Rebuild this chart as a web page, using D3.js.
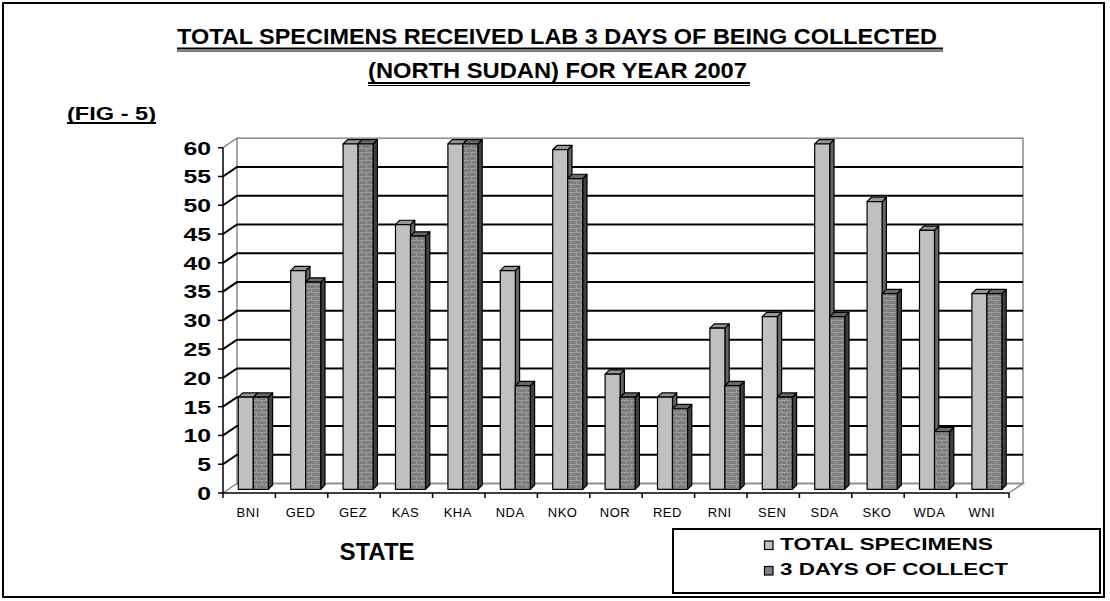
<!DOCTYPE html>
<html>
<head>
<meta charset="utf-8">
<script src="https://cdn.jsdelivr.net/npm/d3@7"></script>
<style>
  html, body { margin: 0; padding: 0; background: #ffffff; }
  svg { display: block; font-family: "Liberation Sans", Arial, sans-serif; }
  .narrow { font-family: "Liberation Sans Narrow", "Arial Narrow", "Liberation Sans", Arial, sans-serif; }
</style>
</head>
<body>
<svg id="chart" width="1110" height="601"></svg>
<script>
// States and yearly specimen counts
const categories = ["BNI", "GED", "GEZ", "KAS", "KHA", "NDA", "NKO", "NOR", "RED", "RNI", "SEN", "SDA", "SKO", "WDA", "WNI"];
const totalSpecimens = [16, 38, 60, 46, 60, 38, 59, 20, 16, 28, 30, 60, 50, 45, 34];
const threeDaysCollect = [16, 36, 60, 44, 60, 18, 54, 16, 14, 18, 16, 30, 34, 10, 34];
const seriesNames = ["TOTAL SPECIMENS", "3 DAYS OF COLLECT"];
const yTicks = [0, 5, 10, 15, 20, 25, 30, 35, 40, 45, 50, 55, 60];
const titleLines = ["TOTAL SPECIMENS RECEIVED LAB 3 DAYS OF BEING COLLECTED", "(NORTH SUDAN) FOR YEAR 2007"];
const figLabel = "(FIG - 5)";
const xTitle = "STATE";

const svg = d3.select("#chart");

// pseudo-3D geometry
const wall = { dx: 14, dy: -9.5 };      // back wall offset from the front axis
const slot = { dx: 4.1, dy: -3.7 };     // depth position of the bars
const face = { dx: 4.3, dy: -4.3 };     // depth of each bar box
const barW = 15;

const x = d3.scaleBand().domain(categories).range([223, 1009]);
const y = d3.scaleLinear().domain([0, 60]).range([493, 147.7]);

// brick fill for the second series
const defs = svg.append("defs");
const pat = defs.append("pattern").attr("id", "brick")
  .attr("patternUnits", "userSpaceOnUse").attr("width", 10).attr("height", 8);
pat.append("rect").attr("width", 10).attr("height", 8).attr("fill", "#7e7e7e");
const mortar = "#9c9c9c";
pat.append("path").attr("d", "M0,0.5H10M0,4.5H10M1.5,0.5V4.5M6.5,4.5V8.5")
  .attr("stroke", mortar).attr("stroke-width", 1).attr("fill", "none");

// outer frame
svg.append("rect").attr("x", 3).attr("y", 3).attr("width", 1101).attr("height", 594)
  .attr("fill", "#fff").attr("stroke", "#000").attr("stroke-width", 2);

// title
svg.append("text").attr("class", "narrow").attr("x", 177).attr("y", 43.5)
  .attr("font-size", 22).attr("font-weight", "bold")
  .attr("textLength", 760).attr("lengthAdjust", "spacingAndGlyphs").text(titleLines[0]);
svg.append("line").attr("x1", 177).attr("x2", 943).attr("y1", 48.5).attr("y2", 48.5)
  .attr("stroke", "#000").attr("stroke-width", 2);
svg.append("line").attr("x1", 177).attr("x2", 943).attr("y1", 51).attr("y2", 51)
  .attr("stroke", "#000").attr("stroke-width", 1);
svg.append("text").attr("class", "narrow").attr("x", 368).attr("y", 78)
  .attr("font-size", 22).attr("font-weight", "bold")
  .attr("textLength", 379).attr("lengthAdjust", "spacingAndGlyphs").text(titleLines[1]);
svg.append("line").attr("x1", 368).attr("x2", 750).attr("y1", 83).attr("y2", 83)
  .attr("stroke", "#000").attr("stroke-width", 2);
svg.append("line").attr("x1", 368).attr("x2", 750).attr("y1", 85.5).attr("y2", 85.5)
  .attr("stroke", "#000").attr("stroke-width", 1);

// figure tag
svg.append("text").attr("x", 67).attr("y", 120)
  .attr("font-size", 18).attr("font-weight", "bold")
  .attr("textLength", 89).attr("lengthAdjust", "spacingAndGlyphs").text(figLabel);
svg.append("line").attr("x1", 67).attr("x2", 156).attr("y1", 123).attr("y2", 123)
  .attr("stroke", "#000").attr("stroke-width", 2);

// walls and floor
const x0 = x.range()[0], x1 = x.range()[1];
const g = svg.append("g");
const frameGray = "#8a8a8a";
g.append("rect")
  .attr("x", x0 + wall.dx).attr("y", y(60) + wall.dy)
  .attr("width", x1 - x0).attr("height", y(0) - y(60))
  .attr("fill", "#fff").attr("stroke", frameGray).attr("stroke-width", 1.5);
// floor outline
g.append("path")
  .attr("d", `M${x0},${y(0)}L${x0 + wall.dx},${y(0) + wall.dy}L${x1 + wall.dx},${y(0) + wall.dy}L${x1},${y(0)}`)
  .attr("fill", "none").attr("stroke", frameGray).attr("stroke-width", 1.5);
// left wall top edge
g.append("line").attr("x1", x0).attr("y1", y(60)).attr("x2", x0 + wall.dx).attr("y2", y(60) + wall.dy)
  .attr("stroke", frameGray).attr("stroke-width", 1.5);

// gridlines on the back wall and the left wall
const inner = yTicks.filter(v => v > 0 && v < 60);
g.selectAll(".grid").data(inner).join("path").attr("class", "grid")
  .attr("d", v => `M${x0},${y(v)}L${x0 + wall.dx},${y(v) + wall.dy}H${x1 + wall.dx}`)
  .attr("fill", "none").attr("stroke", "#000").attr("stroke-width", 2);

// value axis
g.append("line").attr("x1", x0).attr("x2", x0).attr("y1", y(60)).attr("y2", y(0))
  .attr("stroke", "#000").attr("stroke-width", 1.5);
g.selectAll(".ytick").data(yTicks).join("line").attr("class", "ytick")
  .attr("x1", x0 - 5).attr("x2", x0).attr("y1", d => y(d)).attr("y2", d => y(d))
  .attr("stroke", "#000").attr("stroke-width", 1.5);
g.selectAll(".ylab").data(yTicks).join("text").attr("class", "ylab")
  .attr("x", 211).attr("y", d => y(d)).attr("dy", "0.36em")
  .attr("text-anchor", "end").attr("font-size", 19).attr("font-weight", "bold")
  .attr("textLength", d => String(d).length * 13.8).attr("lengthAdjust", "spacingAndGlyphs")
  .text(d => d);

// category axis
g.append("line").attr("x1", x0).attr("x2", x1).attr("y1", y(0)).attr("y2", y(0))
  .attr("stroke", "#000").attr("stroke-width", 1.5);
const bounds = categories.map(c => x(c)).concat([x1]);
g.selectAll(".xtick").data(bounds).join("line").attr("class", "xtick")
  .attr("x1", d => d).attr("x2", d => d).attr("y1", y(0)).attr("y2", y(0) + 5)
  .attr("stroke", "#000").attr("stroke-width", 1.5);
g.selectAll(".xlab").data(categories).join("text").attr("class", "xlab")
  .attr("x", d => x(d) + x.bandwidth() / 2 - 1).attr("y", 517)
  .attr("text-anchor", "middle").attr("font-size", 13).attr("letter-spacing", 0.5)
  .text(d => d);

svg.append("text").attr("x", 377).attr("y", 559.5).attr("text-anchor", "middle")
  .attr("font-size", 24).attr("font-weight", "bold").text(xTitle);

// 3D bars
const styles = [
  { front: "#c0c0c0", top: "#969696", side: "#646464" },
  { front: "url(#brick)", top: "#686868", side: "#404040" }
];
const rows = categories.map((c, i) => ({ c, vals: [totalSpecimens[i], threeDaysCollect[i]] }));
const bars = svg.append("g");
rows.forEach(r => {
  const gc = x(r.c) + x.bandwidth() / 2 + slot.dx;
  r.vals.forEach((v, s) => {
    const st = styles[s];
    const left = gc - barW + s * barW, right = left + barW;
    const top = y(v) + slot.dy, bottom = y(0) + slot.dy;
    const b = bars.append("g").attr("stroke", "#000").attr("stroke-width", 1.2).attr("stroke-linejoin", "round");
    b.append("path")
      .attr("d", `M${right},${bottom}L${right + face.dx},${bottom + face.dy}L${right + face.dx},${top + face.dy}L${right},${top}Z`)
      .attr("fill", st.side);
    b.append("path")
      .attr("d", `M${left},${top}L${left + face.dx},${top + face.dy}L${right + face.dx},${top + face.dy}L${right},${top}Z`)
      .attr("fill", st.top);
    b.append("rect").attr("x", left).attr("y", top).attr("width", barW).attr("height", bottom - top)
      .attr("fill", st.front);
  });
});

// legend
const lg = svg.append("g");
lg.append("rect").attr("x", 673).attr("y", 529).attr("width", 427).attr("height", 64)
  .attr("fill", "#fff").attr("stroke", "#000").attr("stroke-width", 2);
const legendLen = [213, 228];
const legendFill = ["#c0c0c0", "#808080"];
seriesNames.forEach((name, i) => {
  const by = 549.5 + i * 25.5;
  lg.append("rect").attr("x", 764.5).attr("y", by - 8.5).attr("width", 8.5).attr("height", 8.5)
    .attr("fill", legendFill[i]).attr("stroke", "#000").attr("stroke-width", 1.2);
  lg.append("text").attr("x", 780).attr("y", by).attr("font-size", 17).attr("font-weight", "bold")
    .attr("textLength", legendLen[i]).attr("lengthAdjust", "spacingAndGlyphs").text(name);
});
</script>
</body>
</html>
